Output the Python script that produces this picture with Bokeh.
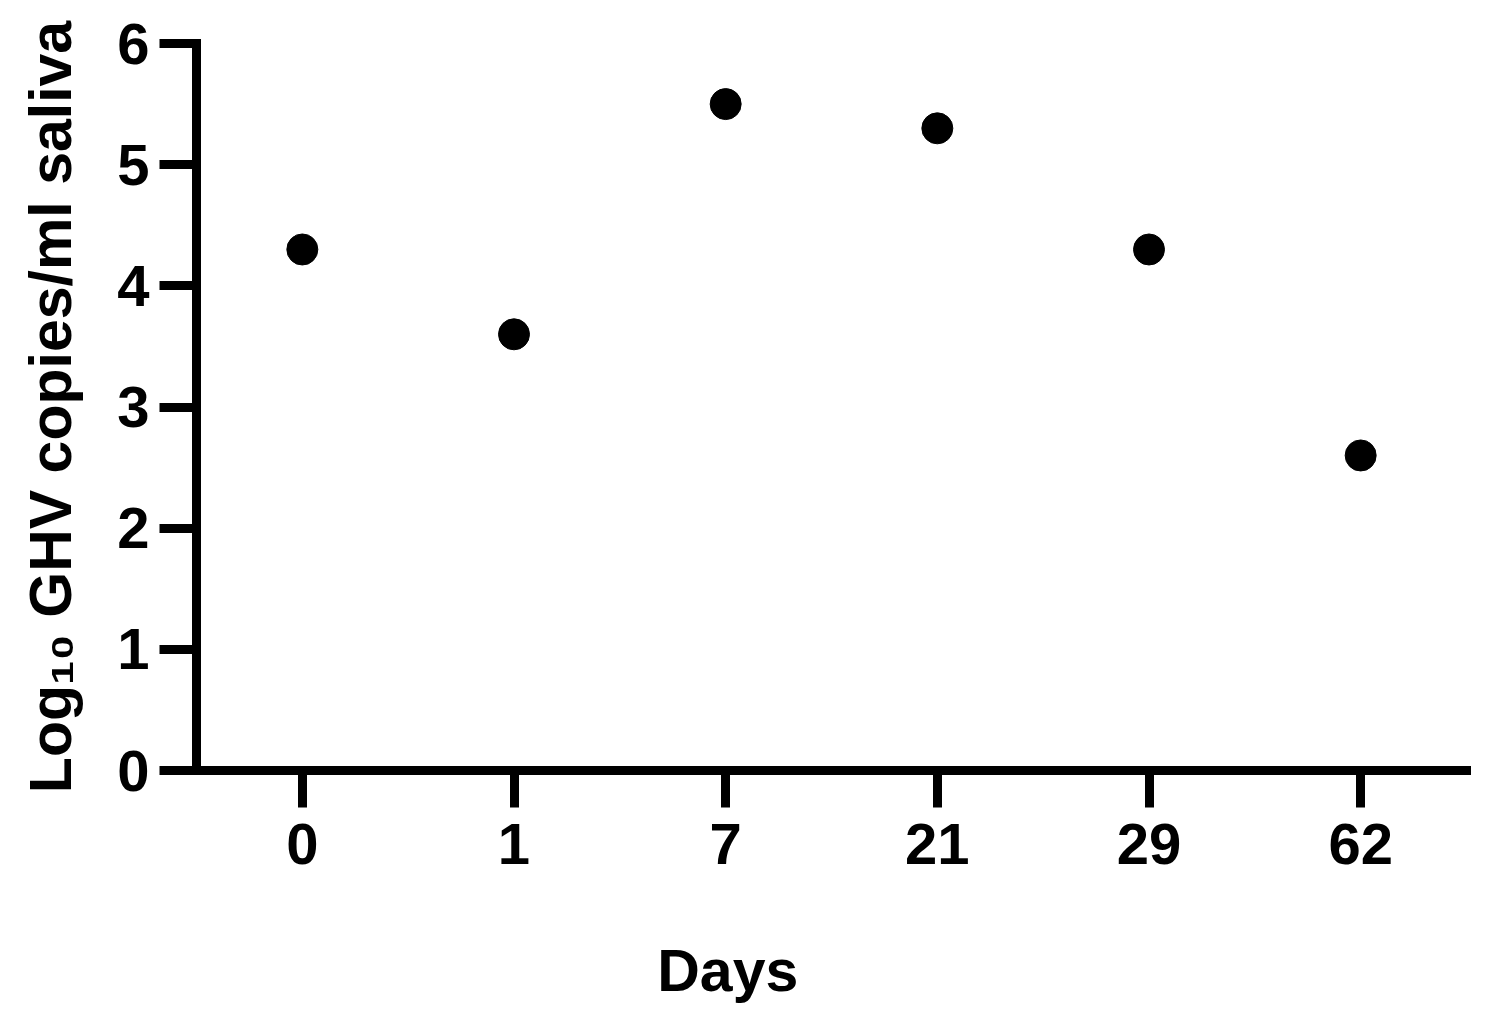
from bokeh.plotting import figure
from bokeh.models import ColumnDataSource, Range1d, FixedTicker, LinearAxis
from bokeh.embed import file_html
from bokeh.resources import INLINE

days = ["0", "1", "7", "21", "29", "62"]
log_copies = [4.3, 3.6, 5.5, 5.3, 4.3, 2.6]
y_ticks = [0, 1, 2, 3, 4, 5, 6]

FONT = "Liberation Sans"

# evenly spaced category slots (one unit each), labels taken from `days`
x_pos = [i + 0.5 for i in range(len(days))]
source = ColumnDataSource(data=dict(x=x_pos, val=log_copies))

p = figure(
    x_range=Range1d(0, len(days)),
    y_range=Range1d(0, 6),
    width=1477, height=1016,
    output_backend="svg", toolbar_location=None,
    min_border_left=196, min_border_right=11,
    min_border_top=43, min_border_bottom=246,
)

p.scatter("x", "val", source=source, size=31, color="black")

p.grid.visible = False
p.outline_line_color = None
p.background_fill_color = "white"
p.border_fill_color = "white"

for ax in (p.xaxis[0], p.yaxis[0]):
    ax.axis_line_width = 9
    ax.axis_line_color = "black"
    ax.axis_line_cap = "square"
    ax.major_tick_line_width = 9
    ax.major_tick_line_color = "black"
    ax.major_tick_out = 37
    ax.major_tick_in = 0
    ax.minor_tick_line_color = None
    ax.major_label_text_font = FONT
    ax.major_label_text_font_style = "bold"
    ax.major_label_text_font_size = "58px"
    ax.major_label_text_color = "black"
    ax.axis_label_text_font = FONT
    ax.axis_label_text_font_style = "bold"
    ax.axis_label_text_font_size = "59px"
    ax.axis_label_text_color = "black"

p.yaxis[0].ticker = FixedTicker(ticks=y_ticks)
p.yaxis[0].major_label_standoff = 10
p.yaxis[0].axis_label = "Log\u2081\u2080 GHV copies/ml saliva"
p.yaxis[0].axis_label_standoff = 30

p.xaxis[0].ticker = FixedTicker(ticks=x_pos)
p.xaxis[0].major_label_overrides = {x: d for x, d in zip(x_pos, days)}
p.xaxis[0].major_label_standoff = 16

# x-axis title "Days": in the original it sits left of the frame centre,
# so it is drawn as the single label of an extra, line-less axis below.
title_pos = 2.51
title_axis = LinearAxis(
    ticker=FixedTicker(ticks=[title_pos]),
    major_label_overrides={title_pos: "Days"},
    axis_line_color=None,
    major_tick_line_color=None,
    minor_tick_line_color=None,
    major_tick_out=0, major_tick_in=0,
    major_label_standoff=71,
    major_label_text_font=FONT,
    major_label_text_font_style="bold",
    major_label_text_font_size="59px",
    major_label_text_color="black",
)
p.add_layout(title_axis, "below")

open("out.html", "w").write(file_html(p, INLINE))
